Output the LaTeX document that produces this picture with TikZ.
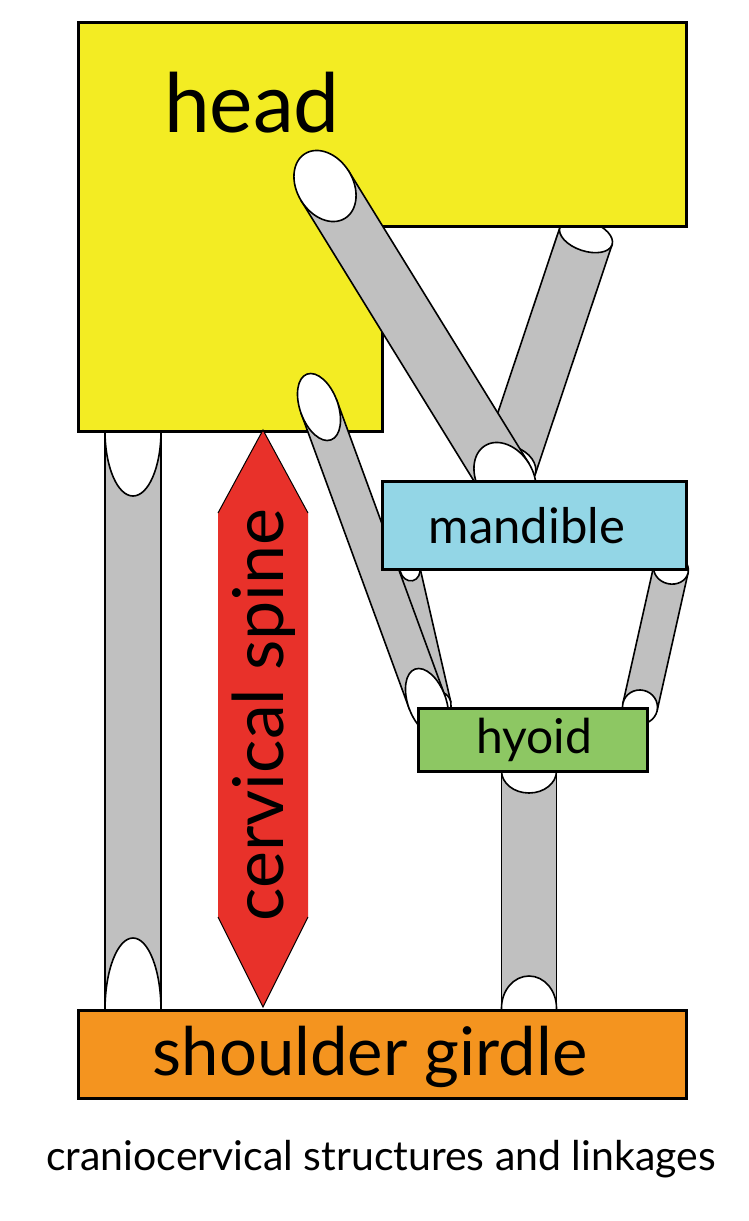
\documentclass[tikz,border=0pt]{standalone}
\usepackage{fontspec}
\setmainfont{Lato}
\usetikzlibrary{calc,shapes.geometric}
\definecolor{headyellow}{RGB}{243,236,35}
\definecolor{mandblue}{RGB}{147,214,230}
\definecolor{hyoidgreen}{RGB}{141,199,99}
\definecolor{girdleorange}{RGB}{244,148,31}
\definecolor{spinered}{RGB}{232,49,42}
\definecolor{musclegray}{RGB}{192,192,192}
\tikzset{
  bone/.style={draw, line width=3pt, inner sep=0pt, outer sep=0pt},
  muscle body/.style={rectangle, draw, fill=musclegray, line width=1.6pt, inner sep=0pt, outer sep=0pt},
  muscle cap/.style={ellipse, draw, fill=white, line width=1.6pt, inner sep=0pt, outer sep=0pt},
}
% muscle: from, to, width, cap length at from, cap length at to
\newcommand{\muscle}[5]{%
  \path let \p1=($(#2)-(#1)$), \n1={atan2(\y1,\x1)}, \n2={veclen(\x1,\y1)} in
    node[muscle body, minimum width=\n2, minimum height=#3, rotate=\n1] at ($(#1)!0.5!(#2)$) {}
    node[muscle cap, minimum width=#4, minimum height=#3, rotate=\n1] at (#1) {}
    node[muscle cap, minimum width=#5, minimum height=#3, rotate=\n1] at (#2) {};
}
\begin{document}
\begin{tikzpicture}[x=1pt,y=-1pt]
\useasboundingbox (0,0) rectangle (748,1221);
% attachment points
\coordinate (hL) at (133,431);
\coordinate (sL) at (133,1010);
\coordinate (hR) at (586,236);
\coordinate (mR) at (509,466);
\coordinate (hD) at (325,186);
\coordinate (mD) at (505,478);
\coordinate (hN) at (319,407);
\coordinate (yN) at (427,702);
\coordinate (mT) at (410,569);
\coordinate (yT) at (441,704);
\coordinate (mB) at (671,569);
\coordinate (yB) at (640,707);
\coordinate (yS) at (529,771);
\coordinate (sS) at (529,1008);
% muscles under the head
\muscle{hL}{sL}{56}{130}{144}
\muscle{hR}{mR}{55}{30}{40}
% head
\draw[bone, fill=headyellow] (78,22) -- (686,22) -- (686,226) -- (382,226)
  -- (382,431) -- (78,431) -- cycle;
\node[anchor=base, font=\fontsize{82}{82}\selectfont] (head) at (252,132) {head};
% muscles over the head
\muscle{mT}{yT}{20}{24}{24}
\muscle{hN}{yN}{38}{70}{70}
\muscle{hD}{mD}{56}{76}{76}
\muscle{mB}{yB}{35}{30}{34}
\muscle{yS}{sS}{55}{44}{64}
% bones
\node[bone, fill=mandblue, minimum width=304, minimum height=88] (mandible) at (534,525) {};
\node[anchor=base, font=\fontsize{49}{49}\selectfont] at (527,543) {mandible};
\node[bone, fill=hyoidgreen, minimum width=229, minimum height=63] (hyoid) at (533,740) {};
\node[anchor=base, font=\fontsize{48}{48}\selectfont] at (534,753) {hyoid};
\node[bone, fill=girdleorange, minimum width=608, minimum height=88] (girdle) at (382,1054) {};
\node[anchor=base, font=\fontsize{67}{67}\selectfont] at (370,1075) {shoulder girdle};
% cervical spine
\coordinate (sT) at (263,430);
\coordinate (sB) at (263,1007);
\fill[spinered] (sT) -- (308,513) -- (308,917) -- (sB) -- (218,917) -- (218,513) -- cycle;
\draw[line width=1pt] (218,513) -- (sT) -- (308,513) (218,917) -- (sB) -- (308,917);
\node[anchor=base, rotate=90, font=\fontsize{70}{70}\selectfont] (spine) at (283,715) {cervical spine};
% caption
\node[anchor=base, font=\fontsize{41}{41}\selectfont] (caption) at (381,1170) {craniocervical structures and linkages};
\end{tikzpicture}
\end{document}
